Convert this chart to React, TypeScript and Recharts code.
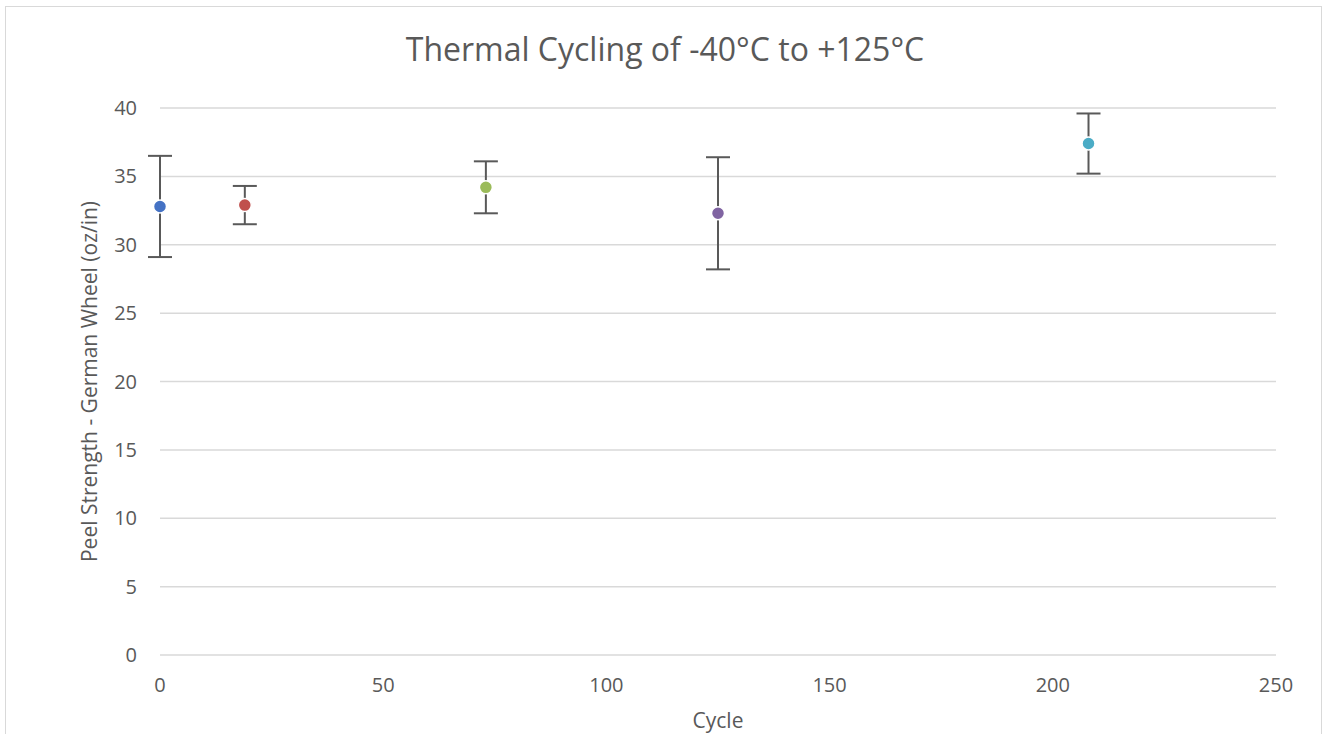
import React from "react";
import {
  ScatterChart,
  Scatter,
  XAxis,
  YAxis,
  CartesianGrid,
  ErrorBar,
  Label,
} from "recharts";

// one marker per test condition
const cycles = [0, 19, 73, 125, 208];
const peel = [32.8, 32.9, 34.2, 32.3, 37.4];
const peelErr = [3.7, 1.4, 1.9, 4.1, 2.2];
const colors = ["#4472C4", "#C0504D", "#9BBB59", "#8064A2", "#4BACC6"];

const xTicks = [0, 50, 100, 150, 200, 250];
const yTicks = [0, 5, 10, 15, 20, 25, 30, 35, 40];

const FONT = "'Open Sans', 'Liberation Sans', sans-serif";
const TEXT = "#595959";

const series = cycles.map((c, i) => ({
  name: `s${i}`,
  color: colors[i],
  data: [{ cycle: c, peel: peel[i], err: peelErr[i] }],
}));

export default function App() {
  return (
    <div
      style={{
        position: "absolute",
        left: 0,
        top: 0,
        width: 1323,
        height: 734,
        background: "#fff",
        overflow: "hidden",
        fontFamily: FONT,
      }}
    >
      <div
        style={{
          position: "absolute",
          left: 5,
          top: 6,
          width: 1315,
          height: 760,
          border: "1.5px solid #d9d9d9",
        }}
      />
      <div
        style={{
          position: "absolute",
          left: 0,
          width: 1330,
          top: 27,
          textAlign: "center",
          fontSize: 32,
          color: TEXT,
        }}
      >
        Thermal Cycling of -40°C to +125°C
      </div>
      <div style={{ position: "absolute", left: 0, top: 0 }}>
        <ScatterChart
          width={1323}
          height={734}
          margin={{ top: 108, right: 47, bottom: 0, left: 70 }}
        >
          <CartesianGrid
            vertical={false}
            stroke="#d9d9d9"
            strokeWidth={1.5}
          />
          <XAxis
            type="number"
            dataKey="cycle"
            domain={[0, 250]}
            ticks={xTicks}
            axisLine={false}
            tickLine={false}
            tickSize={6}
            tickMargin={17}
            height={79}
            tick={{ fill: TEXT, fontSize: 20, fontFamily: FONT }}
          >
            <Label
              value="Cycle"
              position="insideBottom"
              offset={6}
              fill={TEXT}
              fontSize={21}
              fontFamily={FONT}
            />
          </XAxis>
          <YAxis
            type="number"
            dataKey="peel"
            domain={[0, 40]}
            ticks={yTicks}
            axisLine={false}
            tickLine={false}
            tickSize={6}
            tickMargin={17}
            width={90}
            tick={{ fill: TEXT, fontSize: 20, fontFamily: FONT }}
          >
            <Label
              value="Peel Strength - German Wheel (oz/in)"
              angle={-90}
              position="insideLeft"
              offset={20}
              fill={TEXT}
              fontSize={21}
              fontFamily={FONT}
              style={{ textAnchor: "middle" }}
            />
          </YAxis>
          {series.map((s) => (
            <Scatter
              key={s.name}
              name={s.name}
              data={s.data}
              fill={s.color}
              isAnimationActive={false}
              shape={(props: any) => (
                <circle
                  cx={props.cx}
                  cy={props.cy}
                  r={6.5}
                  fill={s.color}
                  stroke="#fff"
                  strokeWidth={1.5}
                />
              )}
            >
              <ErrorBar
                dataKey="err"
                direction="y"
                width={12}
                stroke="#595959"
                strokeWidth={2}
                isAnimationActive={false}
              />
            </Scatter>
          ))}
        </ScatterChart>
      </div>
    </div>
  );
}
